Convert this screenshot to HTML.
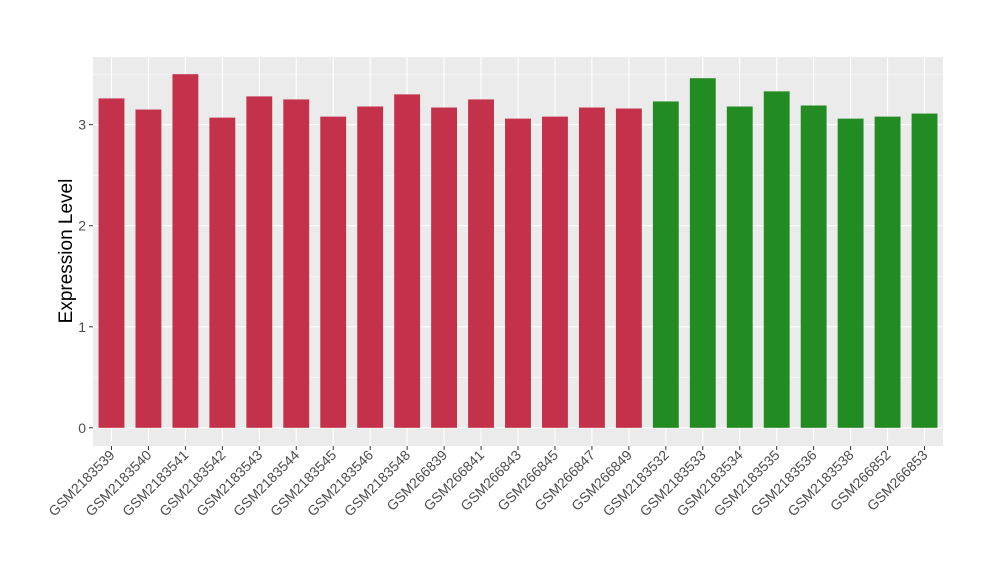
<!DOCTYPE html>
<html><head><meta charset="utf-8"><style>
body{margin:0;background:#fff;}
text{font-family:"Liberation Sans",Arial,sans-serif;}
</style></head><body>
<svg id="chart" width="1000" height="580" xmlns="http://www.w3.org/2000/svg">
<rect x="93" y="57" width="850" height="389" fill="#ebebeb"/>
<g id="grid"></g><g id="bars"></g><g id="xaxis"></g><g id="yaxis"></g>
<text transform="translate(72,251) rotate(-90)" text-anchor="middle" font-size="19" fill="#000">Expression Level</text>
</svg>
<script>
const categories=["GSM2183539","GSM2183540","GSM2183541","GSM2183542","GSM2183543","GSM2183544","GSM2183545","GSM2183546","GSM2183548","GSM266839","GSM266841","GSM266843","GSM266845","GSM266847","GSM266849","GSM2183532","GSM2183533","GSM2183534","GSM2183535","GSM2183536","GSM2183538","GSM266852","GSM266853"];
const values=[3.26,3.15,3.50,3.07,3.28,3.25,3.08,3.18,3.30,3.17,3.25,3.06,3.08,3.17,3.16,3.23,3.46,3.18,3.33,3.19,3.06,3.08,3.11];
const groups=["a","a","a","a","a","a","a","a","a","a","a","a","a","a","a","b","b","b","b","b","b","b","b"];
const yTicks=[0,1,2,3];
const colors={a:"#c3314a",b:"#228b22"};
const NS="http://www.w3.org/2000/svg";
const pLeft=93,pRight=943,pTop=57,pBottom=446;
const yMin=-0.18,yMax=3.67;
const y=v=>pBottom-(v-yMin)/(yMax-yMin)*(pBottom-pTop);
const step=(pRight-pLeft)/categories.length;
const x=i=>pLeft+step*(i+0.5);
const bw=step*0.7;
function mk(tag,attrs,parent){const e=document.createElementNS(NS,tag);for(const k in attrs)e.setAttribute(k,attrs[k]);document.getElementById(parent).appendChild(e);return e;}
for(let t=0;t<yTicks.length;t++){
  const g=mk("line",{x1:pLeft,x2:pRight,y1:y(yTicks[t]),y2:y(yTicks[t]),stroke:"#fff","stroke-width":1.1},"grid");
  
  
  const m=mk("line",{x1:pLeft,x2:pRight,y1:y(yTicks[t]+0.5),y2:y(yTicks[t]+0.5),stroke:"#fff","stroke-width":0.5},"grid");
  
  
  const tk=mk("line",{x1:pLeft-4,x2:pLeft,y1:y(yTicks[t]),y2:y(yTicks[t]),stroke:"#333"},"yaxis");
  
  
  const lb=mk("text",{x:pLeft-7,y:y(yTicks[t])+5,"text-anchor":"end","font-size":14,fill:"#4d4d4d"},"yaxis");
  lb.textContent=yTicks[t];
  
  
}
categories.forEach((c,i)=>{
  const vg=mk("line",{x1:x(i),x2:x(i),y1:pTop,y2:pBottom,stroke:"#fff","stroke-width":1.1},"grid");
  
  
  const b=mk("rect",{x:x(i)-bw/2,y:y(values[i]),width:bw,height:y(0)-y(values[i]),fill:colors[groups[i]]},"bars");
  
  
  const tk=mk("line",{x1:x(i),x2:x(i),y1:pBottom,y2:pBottom+4,stroke:"#333"},"xaxis");
  
  
  const lb=mk("text",{transform:`translate(${x(i)+4},${pBottom+10}) rotate(-45)`,"text-anchor":"end","font-size":14,fill:"#4d4d4d"},"xaxis");
  lb.textContent=c;
  
  
});
</script>
</body></html>
